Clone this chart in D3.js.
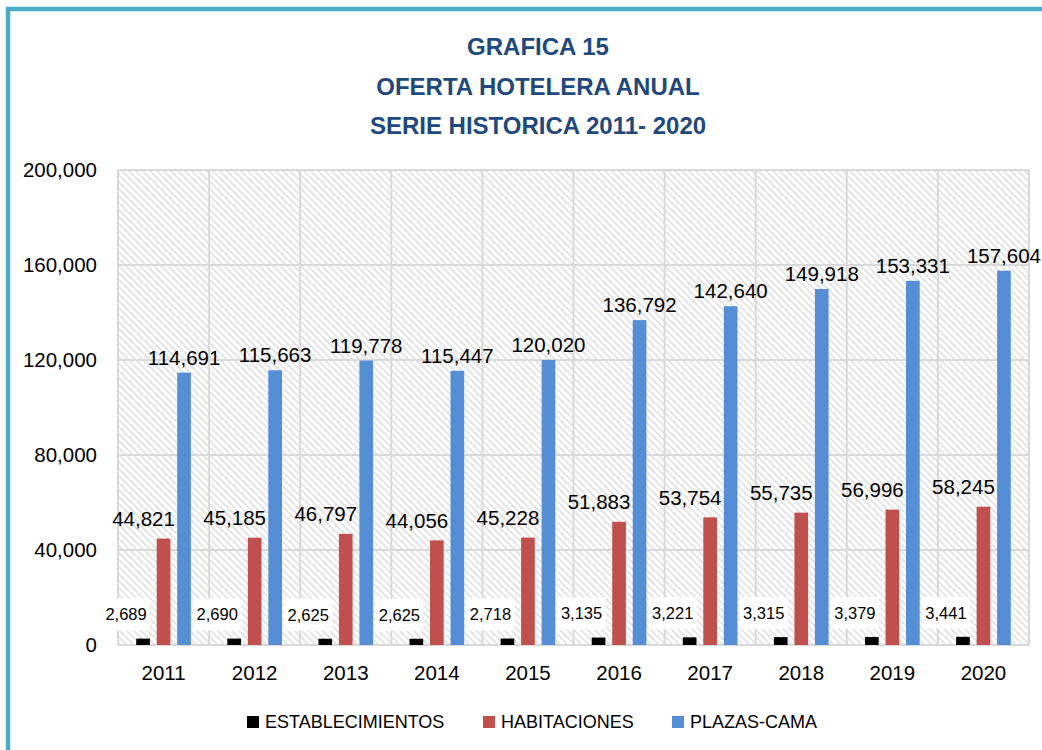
<!DOCTYPE html>
<html>
<head>
<meta charset="utf-8">
<script src="https://cdn.jsdelivr.net/npm/d3@7"></script>
<style>
  html, body { margin: 0; padding: 0; background: #fff; }
  svg text { font-family: "Liberation Sans", Arial, sans-serif; }
</style>
</head>
<body>
<div id="root"></div>
<script>
// data
const years = ["2011", "2012", "2013", "2014", "2015", "2016", "2017", "2018", "2019", "2020"];
const establecimientos = [2689, 2690, 2625, 2625, 2718, 3135, 3221, 3315, 3379, 3441];
const habitaciones = [44821, 45185, 46797, 44056, 45228, 51883, 53754, 55735, 56996, 58245];
const plazasCama = [114691, 115663, 119778, 115447, 120020, 136792, 142640, 149918, 153331, 157604];
const seriesNames = ["ESTABLECIMIENTOS", "HABITACIONES", "PLAZAS-CAMA"];
const yTicks = [0, 40000, 80000, 120000, 160000, 200000];
const titleLines = ["GRAFICA 15", "OFERTA HOTELERA ANUAL", "SERIE HISTORICA 2011- 2020"];

const w = 1042, h = 750
const colors = ["#000000", "#C0504D", "#558ED5"]
const plot = {left: 118, right: 1029, top: 170, bottom: 645}

const svg = d3.select("#root").append("svg")
    .attr("width", w)
    .attr("height", h)
    .attr("viewBox", '0 0 ' + w + ' ' + h)

// hatch pattern for plot background
const defs = svg.append("defs")
defs.append("pattern")
    .attr("id", "hatch")
    .attr("patternUnits", "userSpaceOnUse")
    .attr("width", 7)
    .attr("height", 7)
    .append("path")
    .attr("d", "M-1,-1 L8,8 M-1,6 L1,8 M6,-1 L8,1")
    .attr("stroke", "#e3e3e3")
    .attr("stroke-width", 1.8)

// frame (teal border on top and left)
svg.append("rect")
    .attr("x", 8)
    .attr("y", 9)
    .attr("width", w + 20)
    .attr("height", h + 20)
    .attr("fill", "none")
    .attr("stroke", "#4BACC6")
    .attr("stroke-width", 4.5)

// title
svg.append("g").selectAll("text")
    .data(titleLines)
    .join("text")
    .attr("x", 538)
    .attr("y", (d, i) => 55 + i * 39.5)
    .attr("text-anchor", "middle")
    .attr("font-weight", "bold")
    .attr("font-size", 24)
    .attr("fill", "#1F497D")
    .text(d => d)

// scales
const x = d3.scaleBand()
    .domain(years)
    .range([plot.left, plot.right])

const y = d3.scaleLinear()
    .domain([0, 200000])
    .range([plot.bottom, plot.top])

svg.append("rect")
    .attr("x", plot.left)
    .attr("y", plot.top)
    .attr("width", plot.right - plot.left)
    .attr("height", plot.bottom - plot.top)
    .attr("fill", "url(#hatch)")

// gridlines
const grid = svg.append("g").attr("stroke", "#d9d9d9").attr("stroke-width", 2)
grid.selectAll("line.h")
    .data(yTicks)
    .join("line")
    .attr("class", "h")
    .attr("x1", plot.left)
    .attr("x2", plot.right)
    .attr("y1", d => y(d))
    .attr("y2", d => y(d))
grid.selectAll("line.v")
    .data(years.concat(["end"]))
    .join("line")
    .attr("class", "v")
    .attr("x1", (d, i) => plot.left + i * x.bandwidth())
    .attr("x2", (d, i) => plot.left + i * x.bandwidth())
    .attr("y1", plot.top)
    .attr("y2", plot.bottom)

// axes
const yAxis = d3.axisLeft(y).tickValues(yTicks).tickFormat(d3.format(",")).tickSize(0).tickPadding(21)
svg.append("g")
    .attr("transform", `translate(${plot.left},0)`)
    .call(yAxis)
    .call(g => g.select(".domain").remove())
    .call(g => g.selectAll("text").attr("font-size", 20.5).attr("fill", "#000").attr("font-family", null))

const xAxis = d3.axisBottom(x).tickSize(0).tickPadding(20)
svg.append("g")
    .attr("transform", `translate(0,${plot.bottom})`)
    .call(xAxis)
    .call(g => g.select(".domain").remove())
    .call(g => g.selectAll("text").attr("font-size", 20.5).attr("fill", "#000").attr("font-family", null))

// bars
const series = [establecimientos, habitaciones, plazasCama]
const bw = x.bandwidth() * 0.15
const step = x.bandwidth() * 0.225
const barCx = (i, s) => x(years[i]) + x.bandwidth() / 2 + (s - 1) * step

series.forEach((vals, s) => {
    svg.append("g").selectAll("rect")
        .data(vals)
        .join("rect")
        .attr("x", (d, i) => barCx(i, s) - bw / 2)
        .attr("y", d => y(d))
        .attr("width", bw)
        .attr("height", d => y(0) - y(d))
        .attr("fill", colors[s])
})

// data labels
const fmt = d3.format(",")
// establecimientos: small labels in white boxes
const estLabels = svg.append("g").selectAll("g")
    .data(establecimientos)
    .join("g")
    .attr("transform", (d, i) => `translate(${barCx(i, 0) - 17},${y(d) - 24})`)
estLabels.append("rect")
    .attr("x", -24)
    .attr("y", -16)
    .attr("width", 48)
    .attr("height", 32)
    .attr("fill", "#fff")
estLabels.append("text")
    .attr("text-anchor", "middle")
    .attr("dy", "0.35em")
    .attr("font-size", 16.5)
    .text(d => fmt(d))

svg.append("g").selectAll("text")
    .data(habitaciones)
    .join("text")
    .attr("x", (d, i) => barCx(i, 1) - 20)
    .attr("y", d => y(d) - 20)
    .attr("dy", "0.35em")
    .attr("text-anchor", "middle")
    .attr("font-size", 20.5)
    .text(d => fmt(d))

svg.append("g").selectAll("text")
    .data(plazasCama)
    .join("text")
    .attr("x", (d, i) => barCx(i, 2))
    .attr("y", d => y(d) - 15)
    .attr("dy", "0.35em")
    .attr("text-anchor", "middle")
    .attr("font-size", 20.5)
    .text(d => fmt(d))

// legend
const legendX = [247, 483, 672]
const legend = svg.append("g").selectAll("g")
    .data(seriesNames)
    .join("g")
    .attr("transform", (d, i) => `translate(${legendX[i]},716)`)
legend.append("rect")
    .attr("width", 12)
    .attr("height", 12)
    .attr("fill", (d, i) => colors[i])
legend.append("text")
    .attr("x", 18)
    .attr("y", 6)
    .attr("dy", "0.35em")
    .attr("font-size", 18)
    .text(d => d)
</script>
</body>
</html>
